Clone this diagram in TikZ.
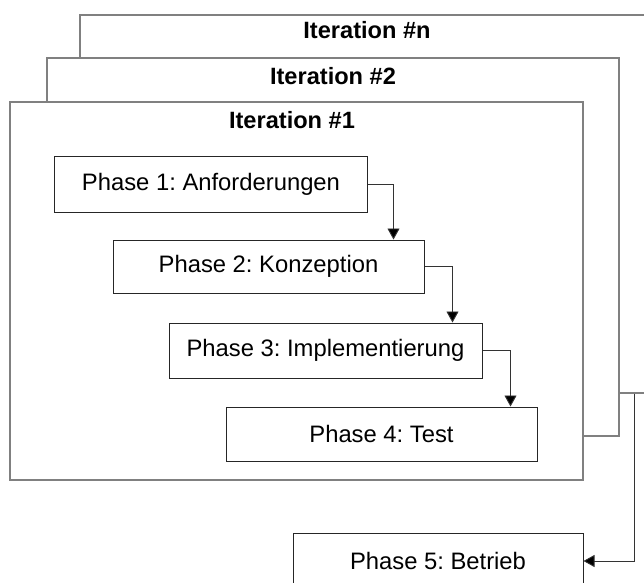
\documentclass[tikz,border=0pt]{standalone}
\usepackage{fontspec}
\setmainfont{Liberation Sans}
\usetikzlibrary{arrows.meta}
\frenchspacing
\begin{document}
\begin{tikzpicture}[x=1bp,y=-1bp,
  frame/.style={draw=black!50,line width=1.3bp,fill=white,inner sep=0pt},
  title/.style={font=\bfseries\fontsize{23.6bp}{26bp}\selectfont,inner sep=0pt,anchor=center},
  phase/.style={draw=black!85,line width=1bp,fill=white,inner sep=0pt,
    font=\fontsize{23.8bp}{26bp}\selectfont},
  arr/.style={draw=black!80,line width=0.9bp,-{Triangle[length=11bp,width=12bp,fill=black]}}]
\useasboundingbox (0,0) rectangle (644,583);
\fill[white] (0,0) rectangle (644,583);
% iteration frames
\node[frame,minimum width=574bp,minimum height=378bp] (itn) at (367,204) {};
\node[title] (tn) at (367,30) {Iteration \#n};
\node[frame,minimum width=572bp,minimum height=378bp] (it2) at (333,247) {};
\node[title] (t2) at (333,76) {Iteration \#2};
\node[frame,minimum width=573bp,minimum height=378bp] (it1) at (296.5,291) {};
\node[title] (t1) at (292,120) {Iteration \#1};
% phases
\node[phase,minimum width=312bp,minimum height=55bp] (p1) at (211,184.5) {Phase 1: Anforderungen};
\node[phase,minimum width=311bp,minimum height=53bp] (p2) at (268.5,266.5) {Phase 2: Konzeption};
\node[phase,minimum width=313bp,minimum height=55bp] (p3) at (325.5,350.5) {Phase 3: Implementierung};
\node[phase,minimum width=311bp,minimum height=54bp] (p4) at (381.5,434) {Phase 4: Test};
\node[phase,minimum width=290bp,minimum height=56bp] (p5) at (438,561) {Phase 5: Betrieb};
% connectors
\draw[arr] (p1.east) -| ([xshift=-31bp]p2.north east);
\draw[arr] (p2.east) -| ([xshift=-30bp]p3.north east);
\draw[arr] (p3.east) -| ([xshift=-27bp]p4.north east);
\coordinate (c5) at ([xshift=-20bp]itn.south east);
\draw[arr] (c5) |- (p5.east);
\end{tikzpicture}
\end{document}
